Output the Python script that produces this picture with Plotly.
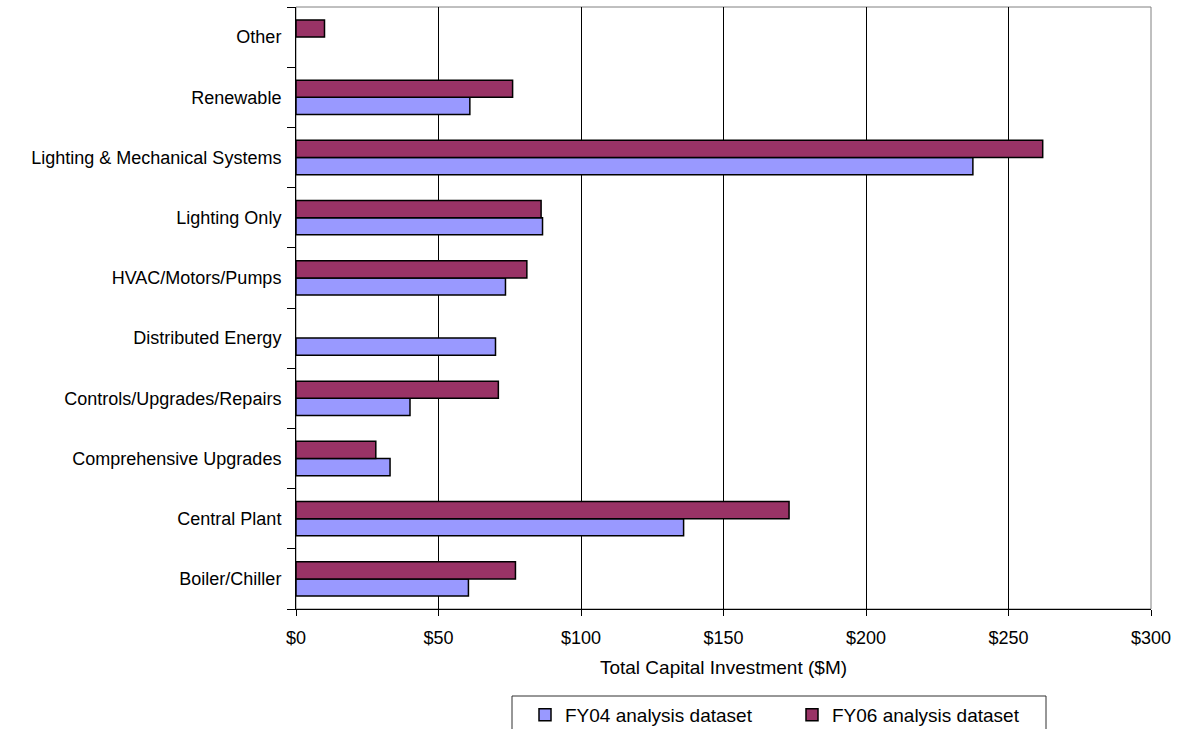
import plotly.graph_objects as go

categories = ["Boiler/Chiller", "Central Plant", "Comprehensive Upgrades",
              "Controls/Upgrades/Repairs", "Distributed Energy", "HVAC/Motors/Pumps",
              "Lighting Only", "Lighting & Mechanical Systems", "Renewable", "Other"]
fy04 = [60.5, 136, 33, 40, 70, 73.5, 86.5, 237.5, 61, None]
fy06 = [77, 173, 28, 71, None, 81, 86, 262, 76, 10]
x_ticks = [0, 50, 100, 150, 200, 250, 300]
x_tick_labels = ["$0", "$50", "$100", "$150", "$200", "$250", "$300"]

FAM = "Liberation Sans, Arial, sans-serif"
font = dict(family=FAM, size=18, color="black")

fig = go.Figure()
fig.add_trace(go.Bar(y=categories, x=fy04, orientation="h", name="FY04 analysis dataset",
                     marker=dict(color="#9999FF", line=dict(color="black", width=1.5))))
fig.add_trace(go.Bar(y=categories, x=fy06, orientation="h", name="FY06 analysis dataset",
                     marker=dict(color="#993366", line=dict(color="black", width=1.5))))

fig.update_layout(
    width=1177, height=729,
    margin=dict(l=296, r=26, t=7, b=120, autoexpand=False),
    paper_bgcolor="white", plot_bgcolor="white",
    font=font,
    barmode="group", bargap=0.43, bargroupgap=0,
    showlegend=True,
    legend=dict(orientation="h", x=(525 - 296) / 855, xanchor="left",
                y=(609 - 715) / 602, yanchor="middle",
                borderwidth=0, bgcolor="rgba(0,0,0,0)",
                entrywidth=222, entrywidthmode="pixels",
                font=dict(family=FAM, size=19, color="black"),
                traceorder="normal"),
    xaxis=dict(range=[0, 300], tickvals=x_ticks, ticktext=x_tick_labels,
               showgrid=True, gridcolor="black", gridwidth=1,
               showline=True, linecolor="black", linewidth=1,
               ticks="outside", ticklen=6, tickcolor="black", ticklabelstandoff=6,
               tickfont=dict(family=FAM, size=18, color="black"),
               title=dict(text="Total Capital Investment ($M)", standoff=14,
                          font=dict(family=FAM, size=19, color="black")),
               zeroline=False, fixedrange=True, automargin=False),
    yaxis=dict(type="category", categoryorder="array", categoryarray=categories,
               showline=True, linecolor="black", linewidth=1,
               ticks="outside", ticklen=8, tickcolor="black", tickson="boundaries",
               ticklabelstandoff=10,
               tickfont=dict(family=FAM, size=18, color="black"),
               showgrid=False, fixedrange=True, automargin=False),
    shapes=[
        dict(type="rect", xref="paper", yref="paper", x0=0, x1=1, y0=0, y1=1,
             line=dict(color="#808080", width=1), layer="below"),
        dict(type="rect", xref="paper", yref="paper",
             x0=(512 - 296) / 855, x1=(1046 - 296) / 855,
             y0=(609 - 696) / 602, y1=(609 - 745) / 602,
             line=dict(color="#303030", width=1), fillcolor="rgba(0,0,0,0)", layer="above"),
    ],
)

fig.write_html("out.html")
